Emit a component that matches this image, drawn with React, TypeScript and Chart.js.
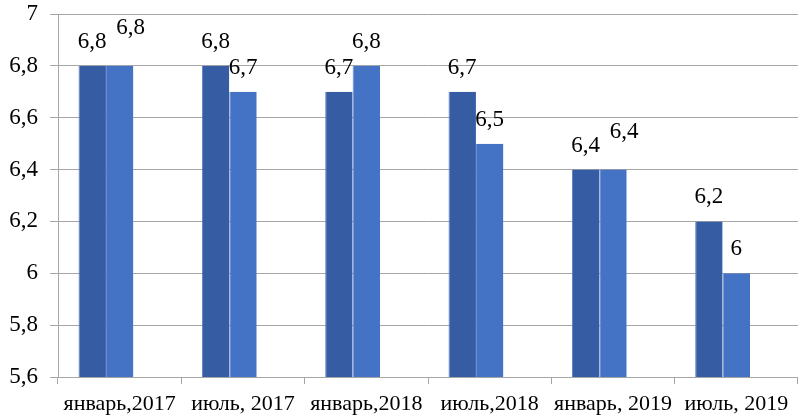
import React, { useEffect, useRef } from "react";
import { Chart, registerables } from "chart.js";

Chart.register(...registerables);

const categories = ["январь,2017", "июль, 2017", "январь,2018", "июль,2018", "январь, 2019", "июль, 2019"];
const seriesA = [6.8, 6.8, 6.7, 6.7, 6.4, 6.2];
const seriesB = [6.8, 6.7, 6.8, 6.5, 6.4, 6.0];
const seriesEmpty = [null, null, null, null, null, null];
const yMin = 5.6;
const yMax = 7;
const yStep = 0.2;

const FONT = "'Liberation Serif', 'Times New Roman', serif";
const DARK = "#365DA3";
const LIGHT = "#4472C4";
const GRID = "#A6A6A6";

const fmt = (v: number) => String(Number(Number(v).toFixed(1))).replace(".", ",");

const labelPlugin = {
  id: "barLabels",
  afterDatasetsDraw(chart: any) {
    const ctx = chart.ctx;
    ctx.save();
    ctx.font = `23px ${FONT}`;
    ctx.fillStyle = "#000";
    ctx.textAlign = "center";
    ctx.textBaseline = "middle";
    [0, 1].forEach((di) => {
      const meta = chart.getDatasetMeta(di);
      const data = chart.data.datasets[di].data as number[];
      meta.data.forEach((bar: any, i: number) => {
        const v = data[i];
        if (v == null) return;
        let dx = 0;
        let dy = -24;
        if (di === 1 && seriesA[i] === v) {
          dx = 11;
          dy = -38;
        }
        ctx.fillText(fmt(v), bar.x + dx, bar.y + dy);
      });
    });
    ctx.restore();
  },
};

export default function App() {
  const ref = useRef<HTMLCanvasElement | null>(null);
  useEffect(() => {
    document.body.style.margin = "0";
    if (!ref.current) return;
    const chart = new Chart(ref.current, {
      type: "bar",
      data: {
        labels: categories,
        datasets: [
          { data: seriesA, backgroundColor: DARK, borderColor: "#5A7DBE", borderWidth: { left: 1, right: 0, top: 0, bottom: 0 } as any, categoryPercentage: 0.667, barPercentage: 1 },
          { data: seriesB, backgroundColor: LIGHT, borderColor: "#6688CC", borderWidth: { left: 1, right: 0, top: 0, bottom: 0 } as any, categoryPercentage: 0.667, barPercentage: 1 },
          { data: seriesEmpty as any, backgroundColor: "transparent", categoryPercentage: 0.667, barPercentage: 1 },
        ],
      },
      options: {
        animation: false,
        responsive: false,
        layout: { padding: { top: 14, right: 0, left: 0, bottom: 0 } },
        plugins: { legend: { display: false }, tooltip: { enabled: false } },
        scales: {
          x: {
            grid: { display: true, offset: true, drawOnChartArea: false, drawTicks: true, tickLength: 7, color: GRID },
            border: { display: true, color: GRID },
            ticks: { color: "#000", font: { family: FONT, size: 22 }, padding: 7, maxRotation: 0, autoSkip: false },
            afterFit: (s: any) => { s.height = 38; s.paddingLeft = 0; s.paddingRight = 0; },
          },
          y: {
            min: yMin,
            max: yMax,
            grid: { color: GRID, drawTicks: true, tickLength: 8 },
            border: { display: true, color: GRID },
            ticks: { stepSize: yStep, color: "#000", font: { family: FONT, size: 23 }, padding: 12, callback: (v: any) => fmt(v) },
            afterFit: (s: any) => { s.width = 58; s.paddingTop = 0; s.paddingBottom = 0; },
          },
        },
      },
      plugins: [labelPlugin],
    });
    return () => chart.destroy();
  }, []);
  return (
    <div style={{ width: 798, height: 415 }}>
      <canvas ref={ref} width={798} height={415} style={{ display: "block" }} />
    </div>
  );
}
